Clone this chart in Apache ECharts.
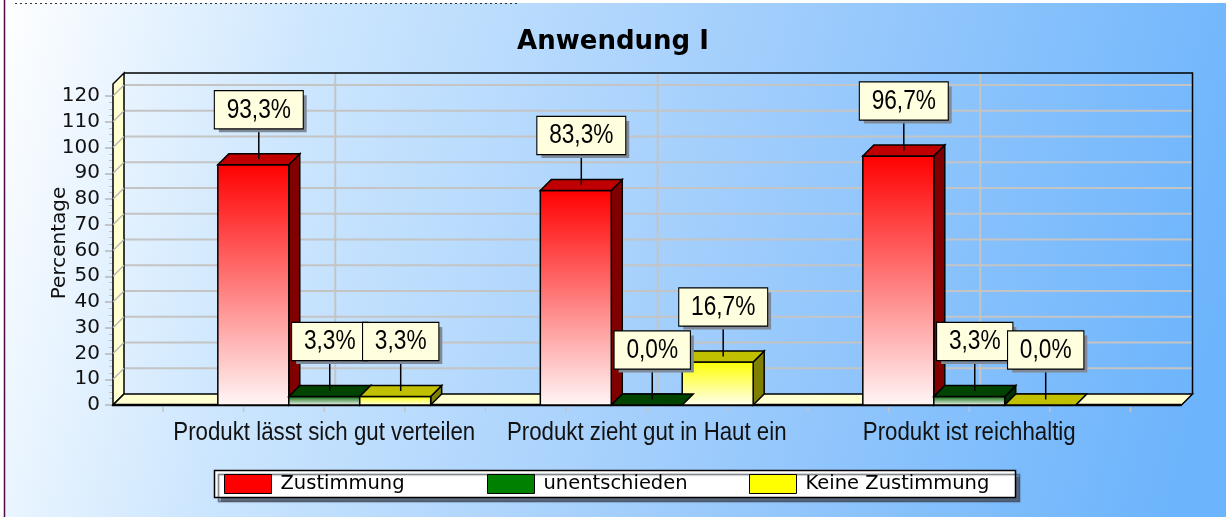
<!DOCTYPE html>
<html>
<head>
<meta charset="utf-8">
<script src="https://cdn.jsdelivr.net/npm/echarts@6/dist/echarts.min.js"></script>
<style>
  html, body { margin: 0; padding: 0; }
  #chart { width: 1226px; height: 517px; }
</style>
</head>
<body>
<div id="chart"></div>
<script>
// data
const categories = ['Produkt lässt sich gut verteilen', 'Produkt zieht gut in Haut ein', 'Produkt ist reichhaltig'];
const zustimmung = [93.3, 83.3, 96.7];
const unentschieden = [3.3, 0.0, 3.3];
const keineZustimmung = [3.3, 16.7, 0.0];
const yTicks = [0, 10, 20, 30, 40, 50, 60, 70, 80, 90, 100, 110, 120];

// 3d look
const DX = 11, DY = 11;
const PAD_L = 50, PAD_R = 51;
const BAR_FRAC = 0.22;
// no narrow font installed, so squeeze Liberation Sans sideways
const NARROW = 0.84;
const sansFont = '"Liberation Sans", Arial, sans-serif';

const looks = [
  { name: 'Zustimmung', data: zustimmung, color: '#ff0000', front: ['#ff0000', '#fff6f6'], top: '#c00000', side: '#800000' },
  { name: 'unentschieden', data: unentschieden, color: '#008000', front: ['#006400', '#ffffff'], top: '#004400', side: '#003000' },
  { name: 'Keine Zustimmung', data: keineZustimmung, color: '#ffff00', front: ['#ffff00', '#fffff0'], top: '#c0c000', side: '#808000' }
];

function fmt(v) {
  return v.toFixed(1).replace('.', ',') + '%';
}

function renderFrame(params, api) {
  const W = api.size([1, 0])[0];
  const c0 = api.coord([0, 0]);
  const c2 = api.coord([categories.length - 1, 0]);
  const x0 = c0[0] - W / 2 - PAD_L;
  const x1 = c2[0] + W / 2 + PAD_R;
  const yb = c0[1];
  const yTopFront = api.coord([0, yTicks[yTicks.length - 1]])[1] - 12;
  const children = [];
  const black = { stroke: '#000', lineWidth: 1.5 };
  const grey = { stroke: '#c4c4c4', lineWidth: 2 };

  // back wall horizontal grid
  yTicks.forEach(function (t) {
    if (t === 0) return;
    const y = api.coord([0, t])[1];
    children.push({ type: 'line', shape: { x1: x0 + DX, y1: y - DY, x2: x1 + DX, y2: y - DY }, style: grey });
  });
  // back wall vertical grid at category centers
  categories.forEach(function (c, j) {
    const x = api.coord([j, 0])[0] + DX;
    children.push({ type: 'line', shape: { x1: x, y1: yTopFront - DY, x2: x, y2: yb - DY }, style: grey });
  });
  // back wall border (top + right)
  children.push({ type: 'polyline', shape: { points: [[x0 + DX, yTopFront - DY], [x1 + DX, yTopFront - DY], [x1 + DX, yb - DY]] }, style: Object.assign({ fill: null }, black) });
  // left wall
  children.push({
    type: 'polygon',
    shape: { points: [[x0, yb], [x0, yTopFront], [x0 + DX, yTopFront - DY], [x0 + DX, yb - DY]] },
    style: Object.assign({ fill: '#ffffd0' }, black)
  });
  yTicks.forEach(function (t) {
    if (t === 0) return;
    const y = api.coord([0, t])[1];
    children.push({ type: 'line', shape: { x1: x0, y1: y, x2: x0 + DX, y2: y - DY }, style: { stroke: '#b8b8b8', lineWidth: 1.5 } });
  });
  // floor
  children.push({
    type: 'polygon',
    shape: { points: [[x0, yb], [x0 + DX, yb - DY], [x1 + DX, yb - DY], [x1, yb]] },
    style: Object.assign({ fill: '#ffffd0' }, black)
  });
  children.push({ type: 'line', shape: { x1: x0, y1: yb, x2: x1, y2: yb }, style: { stroke: '#000', lineWidth: 2.5 } });
  // small ticks under the floor, four per category
  for (let k = 0; k <= categories.length * 4; k++) {
    const x = c0[0] - W / 2 + k * W / 4;
    children.push({ type: 'line', shape: { x1: x, y1: yb + 2, x2: x, y2: yb + 7 }, style: { stroke: '#c4c4c4', lineWidth: 1.5 } });
  }
  // category names, squeezed like the narrow font of the original
  categories.forEach(function (c, j) {
    const x = api.coord([j, 0])[0];
    children.push({
      type: 'text', x: x, y: yb + 28, scaleX: NARROW,
      style: { text: c, font: '26.5px ' + sansFont, fill: '#111', align: 'center', verticalAlign: 'middle' }
    });
  });
  return { type: 'group', children: children };
}

function makeBarRender(k, look) {
  return function (params, api) {
    const j = api.value(0);
    const v = api.value(1);
    const base = api.coord([j, 0]);
    const top = api.coord([j, v]);
    const W = api.size([1, 0])[0];
    const bw = W * BAR_FRAC;
    const xl = base[0] + (k - 1.5) * bw;
    const xr = xl + bw;
    const yb = base[1];
    const yt = top[1];
    const edge = { stroke: '#000', lineWidth: 1.5 };
    const frontFill = yb - yt > 1
      ? new echarts.graphic.LinearGradient(0, 0, 0, 1, [{ offset: 0, color: look.front[0] }, { offset: 1, color: look.front[1] }])
      : look.front[0];
    const cx = (xl + xr) / 2 + DX / 2;
    const cy = yt - DY / 2;
    const boxBottom = cy - 31;
    const textStyle = {
      text: fmt(v),
      font: '27px ' + sansFont,
      align: 'center',
      verticalAlign: 'bottom',
      lineHeight: 30,
      padding: [4, 14, 3, 14]
    };
    return {
      type: 'group',
      children: [
        { type: 'polygon', z2: 1, shape: { points: [[xr, yt], [xr + DX, yt - DY], [xr + DX, yb - DY], [xr, yb]] }, style: Object.assign({ fill: look.side }, edge) },
        { type: 'polygon', z2: 2, shape: { points: [[xl, yt], [xr, yt], [xr, yb], [xl, yb]] }, style: Object.assign({ fill: frontFill }, edge) },
        { type: 'polygon', z2: 3, shape: { points: [[xl, yt], [xl + DX, yt - DY], [xr + DX, yt - DY], [xr, yt]] }, style: Object.assign({ fill: look.top }, edge) },
        { type: 'line', z2: 50, shape: { x1: cx, y1: cy, x2: cx, y2: boxBottom }, style: { stroke: '#000', lineWidth: 1.5 } },
        { type: 'text', z2: 51, x: cx + 4, y: boxBottom + 4, scaleX: NARROW, style: Object.assign({ fill: 'rgba(0,0,0,0)', backgroundColor: '#7f8a99' }, textStyle) },
        { type: 'text', z2: 52, x: cx, y: boxBottom, scaleX: NARROW, style: Object.assign({ fill: '#000', backgroundColor: '#ffffe0', borderColor: '#000', borderWidth: 1.3 }, textStyle) }
      ]
    };
  };
}

const chart = echarts.init(document.getElementById('chart'));

const series = [{
  type: 'custom',
  name: 'frame',
  z: 1,
  silent: true,
  clip: false,
  renderItem: renderFrame,
  data: [[0, 0]]
}];
looks.forEach(function (look, k) {
  series.push({
    type: 'custom',
    name: look.name,
    z: 2,
    clip: false,
    itemStyle: { color: look.color },
    renderItem: makeBarRender(k, look),
    data: look.data.map(function (v, j) { return [j, v]; })
  });
});

// one legend per entry so the entries sit at fixed steps like the original
const legendLefts = [224, 487, 749];
const legends = looks.map(function (look, k) {
  return {
    left: legendLefts[k],
    top: 474,
    padding: 0,
    itemWidth: 47,
    itemHeight: 19,
    icon: 'rect',
    itemStyle: { borderColor: '#000', borderWidth: 1 },
    textStyle: { fontFamily: 'DejaVu Sans', fontSize: 19.5, color: '#000', padding: [0, 0, 0, 4] },
    data: [look.name]
  };
});

chart.setOption({
  animation: false,
  backgroundColor: {
    type: 'linear', x: 0, y: 0, x2: 1, y2: 0.6,
    colorStops: [
      { offset: 0, color: '#ffffff' },
      { offset: 0.25, color: '#cce6fe' },
      { offset: 0.6, color: '#a0cdfc' },
      { offset: 1, color: '#6cb4fc' }
    ]
  },
  title: {
    text: 'Anwendung I',
    left: 'center',
    top: 29,
    padding: 0,
    textStyle: { fontFamily: 'DejaVu Sans', fontWeight: 'bold', fontSize: 26, color: '#000', lineHeight: 26 }
  },
  grid: { left: 163, right: 95.5, top: 96, bottom: 112 },
  xAxis: {
    type: 'category',
    data: categories,
    axisLine: { show: false },
    axisTick: { show: false },
    splitLine: { show: false },
    axisLabel: { show: false }
  },
  yAxis: {
    type: 'value',
    min: 0,
    max: 120,
    interval: 10,
    offset: 50,
    name: 'Percentage',
    nameLocation: 'middle',
    nameGap: 43,
    nameMoveOverlap: false,
    nameTextStyle: { fontFamily: 'DejaVu Sans', fontSize: 20, color: '#111', padding: [0, 0, 0, 15] },
    axisLine: { show: false },
    axisTick: { show: true, length: 8, lineStyle: { color: '#b8b8b8', width: 1.5 } },
    minorTick: { show: true, splitNumber: 4, length: 4, lineStyle: { color: '#c4c4c4' } },
    splitLine: { show: false },
    axisLabel: { margin: 13, color: '#111', fontFamily: 'DejaVu Sans', fontSize: 20 }
  },
  legend: legends,
  graphic: [
    { type: 'rect', shape: { x: 0, y: 0, width: 1226, height: 3 }, style: { fill: '#ffffff' }, silent: true },
    { type: 'rect', shape: { x: 0, y: 0, width: 4, height: 517 }, style: { fill: '#ffffff' }, silent: true },
    { type: 'line', shape: { x1: 4.5, y1: 0, x2: 4.5, y2: 517 }, style: { stroke: '#4a0a4a', lineWidth: 1.5 }, silent: true },
    { type: 'line', shape: { x1: 15, y1: 3.5, x2: 520, y2: 3.5 }, style: { stroke: '#333', lineWidth: 1, lineDash: [2, 3] }, silent: true },
    // legend frame with its drop shadow
    {
      type: 'rect', silent: true,
      shape: { x: 214.5, y: 470.5, width: 801, height: 27 },
      style: { fill: '#ffffff', stroke: '#000', lineWidth: 1.5, shadowColor: 'rgba(70,80,95,0.8)', shadowBlur: 1, shadowOffsetX: 4, shadowOffsetY: 4 }
    }
  ],
  series: series
});
</script>
</body>
</html>
